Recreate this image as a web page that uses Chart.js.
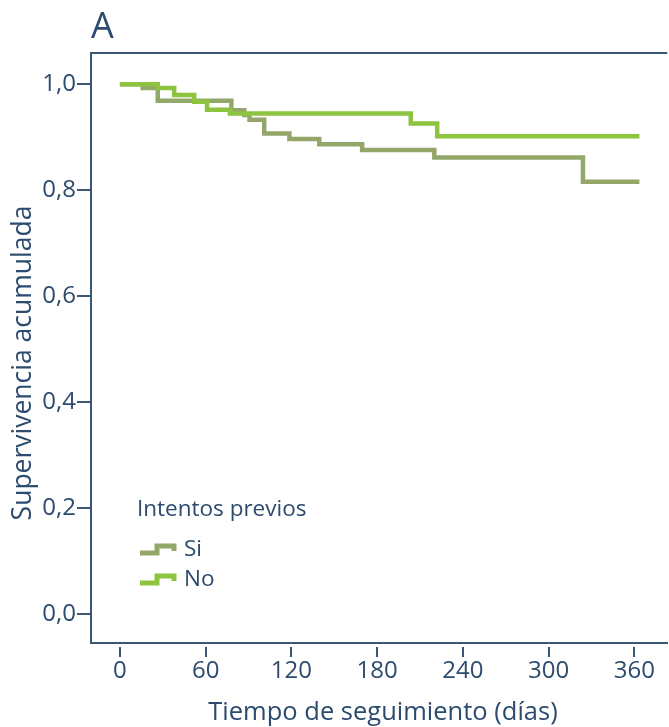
<!DOCTYPE html>
<html><head><meta charset="utf-8">
<script src="https://cdn.jsdelivr.net/npm/chart.js@4"></script>
<style>html,body{margin:0;padding:0;background:#fff;overflow:hidden}#wrap{width:669px;height:727px;position:relative}</style>
</head><body><div id="wrap"><canvas id="c" width="669" height="727"></canvas></div>
<script>
// ---- data ----
const seriesLabels = ['Si', 'No'];
const siDays = [0, 16, 26.5, 78, 87, 90.7, 101, 118.6, 139.5, 169.5, 220, 324, 363.5];
const siSurv = [1.0, 0.993, 0.969, 0.951, 0.942, 0.933, 0.907, 0.897, 0.887, 0.876, 0.862, 0.816, 0.816];
const noDays = [0, 26.5, 38, 52, 61, 77, 203.5, 222, 363.5];
const noSurv = [1.0, 0.993, 0.980, 0.967, 0.952, 0.945, 0.926, 0.902, 0.902];
const xTicks = [0, 60, 120, 180, 240, 300, 360];
const yTicks = [0, 0.2, 0.4, 0.6, 0.8, 1.0];
const panelLabel = 'A';
const xTitle = 'Tiempo de seguimiento (días)';
const yTitle = 'Supervivencia acumulada';
const legendTitle = 'Intentos previos';

// ---- style ----
const FONT = "'Open Sans', 'Noto Sans', sans-serif";
const TEXT = '#2c4b6e';
const FRAME = '#3a5675';
const COLORS = ['#94a76b', '#8dc43f'];

const toPts = (d, v) => d.map((x, i) => ({x: x, y: v[i]}));

const decor = {
  id: 'decor',
  afterDraw(chart) {
    const ctx = chart.ctx, a = chart.chartArea, xs = chart.scales.x;
    ctx.save();
    ctx.strokeStyle = FRAME; ctx.lineWidth = 2;
    ctx.beginPath(); ctx.moveTo(a.left - 1, a.top); ctx.lineTo(a.right, a.top); ctx.stroke();
    xTicks.forEach(v => {
      const px = Math.round(xs.getPixelForValue(v));
      ctx.beginPath(); ctx.moveTo(px, a.bottom + 4); ctx.lineTo(px, a.bottom + 14); ctx.stroke();
    });
    ctx.fillStyle = TEXT;
    ctx.font = '36px ' + FONT; ctx.textAlign = 'left'; ctx.textBaseline = 'alphabetic';
    ctx.fillText(panelLabel, 91, 38);
    ctx.font = '25.5px ' + FONT; ctx.textAlign = 'center';
    ctx.fillText(xTitle, 383, 720);
    ctx.save(); ctx.translate(23, 363); ctx.rotate(-Math.PI / 2);
    ctx.font = '26.5px ' + FONT;
    ctx.textBaseline = 'middle'; ctx.fillText(yTitle, 0, 0); ctx.restore();
    // legend
    ctx.font = '22.5px ' + FONT; ctx.textAlign = 'left'; ctx.textBaseline = 'alphabetic';
    ctx.fillText(legendTitle, 137, 516);
    seriesLabels.forEach((lab, i) => {
      const cy = 550 + i * 30;
      ctx.strokeStyle = COLORS[i]; ctx.lineWidth = 5; ctx.lineJoin = 'miter';
      ctx.beginPath(); ctx.moveTo(140, cy + 3); ctx.lineTo(157, cy + 3); ctx.lineTo(157, cy - 4);
      ctx.lineTo(174, cy - 4); ctx.lineTo(174, cy + 1); ctx.stroke();
      ctx.fillStyle = TEXT; ctx.textBaseline = 'middle';
      ctx.fillText(lab, 184, cy);
    });
    ctx.restore();
  }
};

new Chart(document.getElementById('c'), {
  type: 'line',
  data: {
    datasets: [
      {label: seriesLabels[0], data: toPts(siDays, siSurv), borderColor: COLORS[0], order: 1},
      {label: seriesLabels[1], data: toPts(noDays, noSurv), borderColor: COLORS[1], order: 0}
    ]
  },
  options: {
    responsive: false, devicePixelRatio: 1, animation: false,
    layout: {padding: {top: 53, left: 0, right: 0, bottom: 0}},
    elements: {
      line: {borderWidth: 4.5, stepped: true, tension: 0, fill: false, borderJoinStyle: 'miter', borderCapStyle: 'butt'},
      point: {radius: 0, hoverRadius: 0}
    },
    plugins: {legend: {display: false}, tooltip: {enabled: false}, title: {display: false}},
    scales: {
      x: {
        type: 'linear', min: -20.2, max: 383,
        afterFit: s => { s.height = 84; },
        afterBuildTicks: s => { s.ticks = xTicks.map(v => ({value: v})); },
        grid: {display: true, drawOnChartArea: false, drawTicks: false},
        border: {display: true, color: FRAME, width: 2},
        ticks: {font: {family: FONT, size: 24}, color: TEXT, padding: 14, maxRotation: 0, autoSkip: false,
                callback: v => String(v)}
      },
      y: {
        type: 'linear', min: -0.054, max: 1.059,
        afterFit: s => { s.width = 91; },
        afterBuildTicks: s => { s.ticks = yTicks.map(v => ({value: v})); },
        grid: {display: true, drawOnChartArea: false, drawTicks: true, tickLength: 14, color: FRAME, lineWidth: 2},
        border: {display: true, color: FRAME, width: 2},
        ticks: {font: {family: FONT, size: 24}, color: TEXT, padding: 1,
                callback: v => v.toFixed(1).replace('.', ',')}
      }
    }
  },
  plugins: [decor]
});
</script></body></html>
